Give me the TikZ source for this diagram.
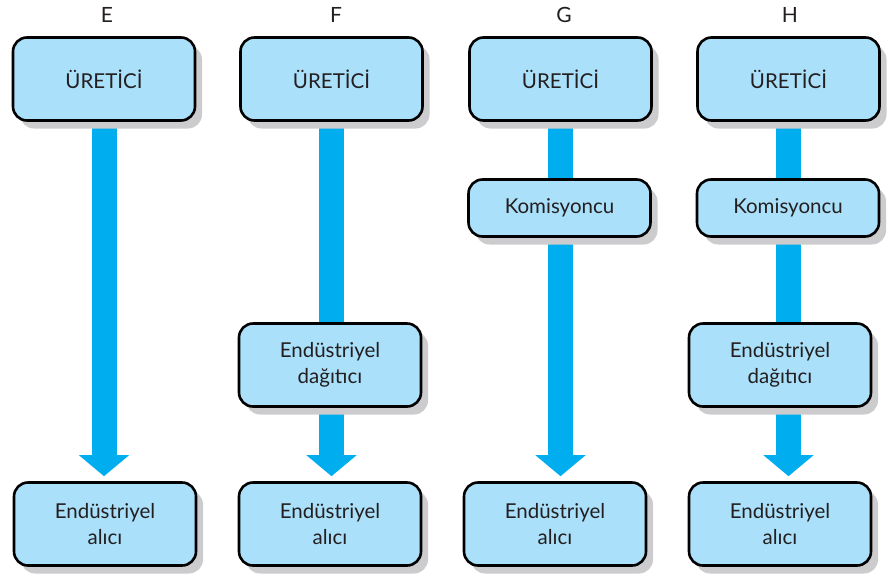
\documentclass[tikz,border=0pt]{standalone}
\usepackage{fontspec}
\setmainfont{Lato}
\usetikzlibrary{arrows.meta,shadows,backgrounds}
\definecolor{kutu}{RGB}{170,224,250}
\definecolor{okrenk}{RGB}{0,174,239}
\definecolor{golge}{RGB}{204,204,206}
\definecolor{yazi}{RGB}{35,31,32}
\tikzset{
	box/.style={draw=black,line width=2.6pt,rounded corners=14pt,fill=kutu,text=yazi,
		minimum width=182pt,minimum height=83pt,align=center,inner sep=0pt,
		font=\fontsize{20.5}{26}\selectfont,
		drop shadow={shadow xshift=7pt,shadow yshift=-8pt,fill=golge,opacity=1}},
	kbox/.style={box,minimum height=57pt},
	head/.style={text=yazi,font=\fontsize{21}{22}\selectfont},
	shaft/.style={okrenk,line width=25pt},
	flow/.style={shaft,shorten >=5pt,-{Triangle[width=49pt,length=21pt]}}
}
\begin{document}
\begin{tikzpicture}[x=1pt,y=-1pt]
		\useasboundingbox (0,0) rectangle (891,579);
		
		\foreach \h/\x in {E/107,F/336,G/564,H/790}{
			\node[head] (l\h) at (\x,15) {\h};
		}
		
		\foreach \h/\x in {E/104,F/331.5,G/560.5,H/788.5}{
			\node[box] (u\h) at (\x,79) {ÜRETİCİ};
		}
		
		\foreach \h/\x in {E/105,F/330,G/555,H/780}{
			\node[box] (a\h) at (\x,524) {Endüstriyel\\alıcı};
		}
		
		\node[box] (dF) at (330,365) {Endüstriyel\\dağıtıcı};
		\node[box] (dH) at (780,365) {Endüstriyel\\dağıtıcı};
		\node[kbox] (kG) at (559.5,208) {Komisyoncu};
		\node[kbox] (kH) at (788,208) {Komisyoncu};
		
		\begin{scope}[on background layer]
		\draw[flow] (uE.south) -- (uE.south |- aE.north);
		\draw[shaft] (uF.south) -- (uF.south |- dF.north);
		\draw[flow] (dF.south -| uF.south) -- (uF.south |- aF.north);
		\draw[shaft] (uG.south) -- (uG.south |- kG.north);
		\draw[flow] (kG.south -| uG.south) -- (uG.south |- aG.north);
		\draw[shaft] (uH.south) -- (uH.south |- kH.north);
		\draw[shaft] (kH.south -| uH.south) -- (uH.south |- dH.north);
		\draw[flow] (dH.south -| uH.south) -- (uH.south |- aH.north);
		\end{scope}
\end{tikzpicture}
\end{document}
